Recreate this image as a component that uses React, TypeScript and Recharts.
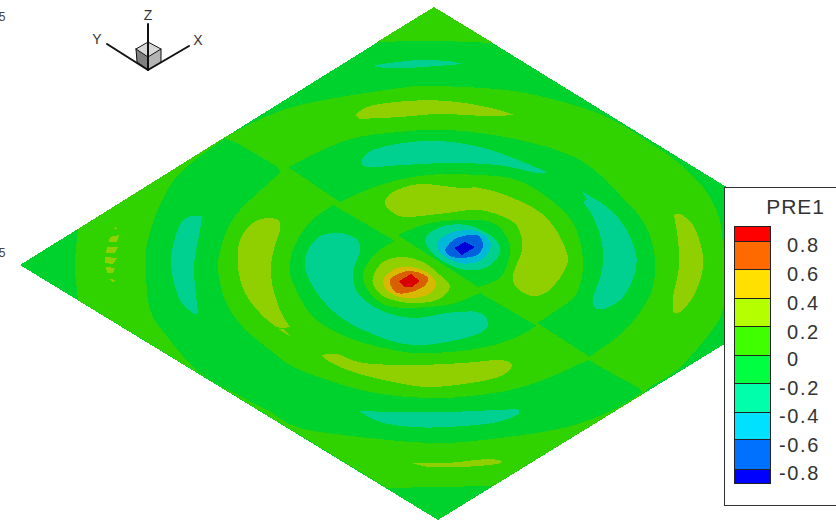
import { ScatterChart, Scatter, XAxis, YAxis } from 'recharts';

type Pt = [number, number];

// contour colours
const cA = '#00d22d';
const cB = '#30d200';
const cC = '#90d000';
const cD = '#00d090';
const cE = '#00b8d8';
const cF = '#0060e0';
const cG = '#0000d8';
const cGold = '#d8b800';
const cOrange = '#d86000';
const cRed = '#d80000';

// flood regions, all in picture units. A vertex listed twice is a hard corner.
const plate: Pt[] = [[434, 7], [20, 265], [438, 520], [853, 265]];
const tipTop: Pt[] = [[377, 42], [377, 42], [434, 7], [434, 7], [493, 43], [493, 43], [434, 41]];
const outerBand: Pt[] = [[78, 229], [78, 229], [225, 137], [225, 137], [270, 115], [313, 102], [400, 88], [434, 86], [520, 92], [600, 114], [650, 143], [675, 160], [695, 178], [710, 197], [720, 220], [723, 245], [726, 270], [723, 310], [707, 337], [677, 370], [650, 387], [643, 394], [643, 394], [493, 486], [493, 486], [438, 487], [387, 488], [387, 488], [78, 300], [78, 300], [75, 265]];
const lowerCrescent: Pt[] = [[225, 138], [225, 138], [180, 173], [160, 205], [148, 240], [146, 265], [150, 310], [170, 340], [193, 367], [217, 384], [267, 410], [300, 428], [370, 438], [438, 443], [500, 438], [567, 427], [613, 410], [643, 392], [643, 392], [637, 387], [637, 387], [588, 360], [588, 360], [543, 380], [500, 392], [438, 398], [370, 392], [300, 370], [270, 350], [243, 327], [225, 300], [218, 265], [225, 235], [240, 210], [280, 173], [280, 173], [278, 167], [278, 167], [235, 142], [235, 142], [228, 140]];
const upperCrescent: Pt[] = [[288, 167], [288, 167], [347, 140], [400, 132], [450, 130], [520, 140], [580, 160], [620, 195], [645, 225], [655, 260], [650, 295], [625, 330], [592, 355], [590, 357], [590, 357], [537, 323], [537, 323], [557, 310], [577, 293], [583, 260], [573, 223], [547, 197], [517, 180], [480, 175], [427, 175], [380, 185], [340, 202], [340, 202], [337, 200], [337, 200]];
const innerCrescent: Pt[] = [[333, 205], [333, 205], [310, 222], [295, 245], [290, 265], [293, 283], [313, 317], [347, 337], [380, 347], [413, 353], [450, 352], [480, 348], [510, 340], [537, 326], [537, 326], [480, 293], [480, 293], [447, 305], [393, 307], [370, 293], [363, 273], [377, 252], [395, 241], [395, 241], [390, 238], [390, 238]];
const upperRing: Pt[] = [[398, 235], [398, 235], [430, 223], [473, 220], [497, 225], [510, 247], [505, 270], [497, 280], [478, 287], [478, 287]];

// yellow-green patches
const bananaCentre: Pt[] = [[385, 203], [393, 192], [420, 184], [460, 188], [480, 188], [513, 198], [547, 218], [567, 253], [563, 273], [547, 292], [532, 296], [517, 288], [513, 275], [522, 250], [520, 232], [510, 220], [480, 210], [447, 213], [407, 217], [392, 212]];
const yellowTop: Pt[] = [[355, 115], [355, 115], [370, 106], [407, 101], [447, 101], [487, 107], [515, 115], [515, 115], [487, 116], [440, 114], [400, 117], [360, 119], [360, 119]];
const yellowBottomWide: Pt[] = [[322, 355], [322, 355], [337, 354], [363, 363], [413, 365], [463, 363], [500, 360], [512, 365], [503, 375], [477, 382], [430, 387], [393, 382], [353, 372], [330, 362]];
const yellowBottomThin: Pt[] = [[411, 463], [411, 463], [447, 463], [487, 459], [502, 461], [502, 461], [497, 464], [463, 467], [430, 467]];
const yellowRight: Pt[] = [[674, 215], [674, 215], [680, 214], [693, 225], [702, 250], [702, 273], [693, 297], [680, 312], [673, 312], [673, 312], [673, 297], [679, 267], [678, 240]];
const yellowLeft: Pt[] = [[253, 223], [268, 218], [279, 220], [279, 220], [280, 230], [272, 257], [272, 283], [280, 310], [290, 327], [290, 327], [277, 327], [260, 313], [245, 293], [238, 267], [240, 240]];

// teal patches
const tealCentre: Pt[] = [[305, 260], [317, 238], [337, 233], [355, 238], [360, 250], [353, 273], [358, 293], [380, 310], [413, 318], [447, 313], [477, 312], [488, 322], [480, 333], [447, 342], [413, 345], [380, 337], [340, 317], [313, 287]];
const tealTopSmall: Pt[] = [[372, 66], [372, 66], [390, 63], [420, 60], [447, 61], [463, 64], [463, 64], [437, 66], [407, 68], [387, 68]];
const tealTopWide: Pt[] = [[362, 160], [373, 150], [403, 143], [440, 141], [480, 147], [513, 158], [547, 172], [547, 172], [537, 173], [497, 165], [447, 163], [403, 165], [367, 167]];
const tealBottom: Pt[] = [[359, 411], [359, 411], [397, 412], [447, 412], [518, 409], [518, 409], [517, 415], [493, 423], [447, 427], [413, 427], [380, 422]];
const tealRight: Pt[] = [[583, 202], [583, 202], [595, 199], [620, 220], [635, 250], [635, 273], [623, 297], [607, 308], [595, 308], [593, 298], [602, 270], [602, 243], [593, 217]];
const tealLeft: Pt[] = [[183, 220], [202, 216], [202, 216], [200, 230], [194, 267], [198, 313], [198, 313], [193, 313], [180, 300], [172, 273], [172, 250]];

// the two peaks
const lobeC: Pt[] = [[373, 277], [383, 262], [402, 257], [423, 262], [440, 275], [450, 287], [437, 300], [410, 303], [387, 298], [375, 288]];
const lobeGold: Pt[] = [[383, 280], [397, 268], [417, 268], [430, 275], [436, 285], [427, 295], [407, 298], [390, 293]];
const lobeOrange: Pt[] = [[390, 280], [403, 272], [417, 272], [428, 278], [423, 287], [407, 293], [395, 292]];
const pitD: Pt[] = [[425, 240], [440, 227], [467, 225], [490, 235], [500, 248], [493, 263], [477, 270], [457, 268], [437, 257]];
const pitE: Pt[] = [[437, 243], [453, 232], [477, 231], [490, 242], [488, 253], [477, 262], [460, 263], [443, 255]];
const pitF: Pt[] = [[446, 248], [457, 238], [477, 235], [483, 245], [477, 255], [460, 258], [448, 255]];

// small angular bits, drawn with straight edges
const lobeRed: Pt[] = [[399, 281], [411, 274], [420, 281], [412, 287], [404, 287]];
const pitG: Pt[] = [[454, 248], [465, 242], [475, 247], [462, 255]];
const yellowLeftSliver: Pt[] = [[278, 329], [283, 329], [290, 336]];
const tealRightSliver: Pt[] = [[582, 191], [594, 199], [586, 199]];
const specks: Pt[][] = [
  [[113, 229], [115, 227], [117, 229]],
  [[110, 237], [119, 235], [117, 242], [109, 242]],
  [[107, 247], [118, 247], [115, 253], [106, 253]],
  [[105, 257], [117, 258], [113, 264], [105, 263]],
  [[106, 267], [115, 268], [113, 273], [107, 273]],
  [[110, 279], [115, 280], [113, 283]],
];

const contours: [Pt[], string][] = [
  [tipTop, cB], [outerBand, cB], [lowerCrescent, cA], [upperCrescent, cA], [innerCrescent, cA], [upperRing, cA],
  [bananaCentre, cC], [yellowTop, cC], [yellowBottomWide, cC], [yellowBottomThin, cC], [yellowRight, cC], [yellowLeft, cC],
  [tealCentre, cD], [tealTopSmall, cD], [tealTopWide, cD], [tealBottom, cD], [tealRight, cD], [tealLeft, cD],
  [lobeC, cC], [lobeGold, cGold], [lobeOrange, cOrange],
  [pitD, cD], [pitE, cE], [pitF, cF],
];
const angular: [Pt[], string][] = [
  [lobeRed, cRed], [pitG, cG], [yellowLeftSliver, cC], [tealRightSliver, cD],
  ...specks.map((s): [Pt[], string] => [s, cC]),
];

// axis triad
const cubeTop: Pt[] = [[148, 42], [161, 49], [148, 57], [136, 49]];
const cubeLeft: Pt[] = [[136, 49], [148, 57], [148, 70], [137, 62]];
const cubeRight: Pt[] = [[148, 57], [161, 49], [161, 62], [148, 70]];
const triadLines: Pt[][] = [
  [[148, 24], [148, 70]],
  [[148, 70], [189, 46]],
  [[148, 70], [107, 44]],
  [[136, 49], [148, 42], [161, 49], [161, 62]],
  [[136, 49], [148, 57], [161, 49]],
  [[136, 49], [137, 62], [148, 70]],
];
const triadLabels = [
  { x: 148, y: 15, text: 'Z' },
  { x: 198, y: 40, text: 'X' },
  { x: 97, y: 39, text: 'Y' },
];
const clippedTicks = [
  { x: 2, y: 17, text: '5' },
  { x: 2, y: 253, text: '5' },
];

// legend
const legendBox: Pt[] = [[724.5, 187.5], [840, 187.5], [840, 505.5], [724.5, 505.5]];
const legendColors = ['#ff0000', '#ff6a00', '#ffe000', '#b4ff00', '#40ff00', '#00ff40', '#00ffaa', '#00e0ff', '#0070ff', '#0000ff'];
const legendEdges = [226, 241, 269, 298, 326, 355, 383, 412, 439, 469, 483];
const legendLevels = ['0.8', '0.6', '0.4', '0.2', '0', '-0.2', '-0.4', '-0.6', '-0.8'];
const legendLevelY = [245, 274, 303, 332, 359, 388, 416, 445, 473];
const legendCells = legendColors.map((color, i): [Pt[], string] => [
  [[734, legendEdges[i]], [770, legendEdges[i]], [770, legendEdges[i + 1]], [734, legendEdges[i + 1]]],
  color,
]);
const legendLabels = legendLevels.map((text, i) => ({ x: text.startsWith('-') ? 779 : 787, y: legendLevelY[i], text }));

const toData = (pts: Pt[]) => pts.map(([x, y]) => ({ x, y }));
const noMark = () => <g />;
const pointsAttr = (points: { x: number; y: number }[]) => points.map((p) => `${p.x},${p.y}`).join(' ');

// closed catmull-rom through the scaled points, so contours read as curves
const smoothPath = (pts: { x: number; y: number }[]) => {
  const n = pts.length;
  let d = `M${pts[0].x},${pts[0].y}`;
  for (let i = 0; i < n; i++) {
    const p0 = pts[(i - 1 + n) % n];
    const p1 = pts[i];
    const p2 = pts[(i + 1) % n];
    const p3 = pts[(i + 2) % n];
    // doubled vertex: nothing to draw, and a curve here would loop
    if (p1.x === p2.x && p1.y === p2.y) continue;
    const c1x = p1.x + (p2.x - p0.x) / 6;
    const c1y = p1.y + (p2.y - p0.y) / 6;
    const c2x = p2.x - (p3.x - p1.x) / 6;
    const c2y = p2.y - (p3.y - p1.y) / 6;
    d += `C${c1x},${c1y} ${c2x},${c2y} ${p2.x},${p2.y}`;
  }
  return d + 'Z';
};

const curveLine = (fill: string) => (props: any) => (
  <path d={smoothPath(props.points)} fill={fill} stroke="none" shapeRendering="crispEdges" />
);
const polygonLine = (fill: string, stroke = 'none', crisp = true) => (props: any) => (
  <polygon
    points={pointsAttr(props.points)}
    fill={fill}
    stroke={stroke}
    shapeRendering={crisp ? 'crispEdges' : 'auto'}
  />
);
const strokeLine = (stroke: string, width: number) => (props: any) => (
  <polyline points={pointsAttr(props.points)} fill="none" stroke={stroke} strokeWidth={width} strokeLinecap="round" strokeLinejoin="round" />
);
const textMark = (size: number, anchor: string, color: string, spacing = 0) => (props: any) => (
  <text
    x={props.cx}
    y={props.cy}
    fontSize={size}
    fontFamily="Liberation Sans"
    textAnchor={anchor}
    dominantBaseline="central"
    fill={color}
    letterSpacing={spacing}
  >
    {props.payload.text}
  </text>
);

export default function App() {
  return (
    <div style={{ position: 'fixed', left: 0, top: 0, width: 836, height: 520, background: '#fff', overflow: 'hidden' }}>
      <ScatterChart width={836} height={520} margin={{ top: 0, right: 0, bottom: 0, left: 0 }}>
        <XAxis type="number" dataKey="x" domain={[0, 836]} hide allowDataOverflow />
        <YAxis type="number" dataKey="y" domain={[0, 520]} reversed hide allowDataOverflow />

        <Scatter data={toData(plate)} shape={noMark} line={polygonLine(cA)} isAnimationActive={false} />
        {contours.map(([pts, color], i) => (
          <Scatter key={'c' + i} data={toData(pts)} shape={noMark} line={curveLine(color)} isAnimationActive={false} />
        ))}
        {angular.map(([pts, color], i) => (
          <Scatter key={'a' + i} data={toData(pts)} shape={noMark} line={polygonLine(color)} isAnimationActive={false} />
        ))}

        <Scatter data={toData(cubeTop)} shape={noMark} line={polygonLine('#d8d8d8', 'none', false)} isAnimationActive={false} />
        <Scatter data={toData(cubeLeft)} shape={noMark} line={polygonLine('#808080', 'none', false)} isAnimationActive={false} />
        <Scatter data={toData(cubeRight)} shape={noMark} line={polygonLine('#b4b4b4', 'none', false)} isAnimationActive={false} />
        {triadLines.map((pts, i) => (
          <Scatter key={'t' + i} data={toData(pts)} shape={noMark} line={strokeLine('#111', i < 3 ? 2 : 1)} isAnimationActive={false} />
        ))}
        <Scatter data={triadLabels} shape={textMark(14, 'middle', '#333')} isAnimationActive={false} />
        <Scatter data={clippedTicks} shape={textMark(12, 'middle', '#444')} isAnimationActive={false} />

        <Scatter data={toData(legendBox)} shape={noMark} line={polygonLine('#fff', '#333')} isAnimationActive={false} />
        {legendCells.map(([pts, color], i) => (
          <Scatter key={'l' + i} data={toData(pts)} shape={noMark} line={polygonLine(color, '#222')} isAnimationActive={false} />
        ))}
        <Scatter data={[{ x: 825, y: 206, text: 'PRE1' }]} shape={textMark(21, 'end', '#333', 1)} isAnimationActive={false} />
        <Scatter data={legendLabels} shape={textMark(20, 'start', '#333', 1.6)} isAnimationActive={false} />
      </ScatterChart>
    </div>
  );
}
